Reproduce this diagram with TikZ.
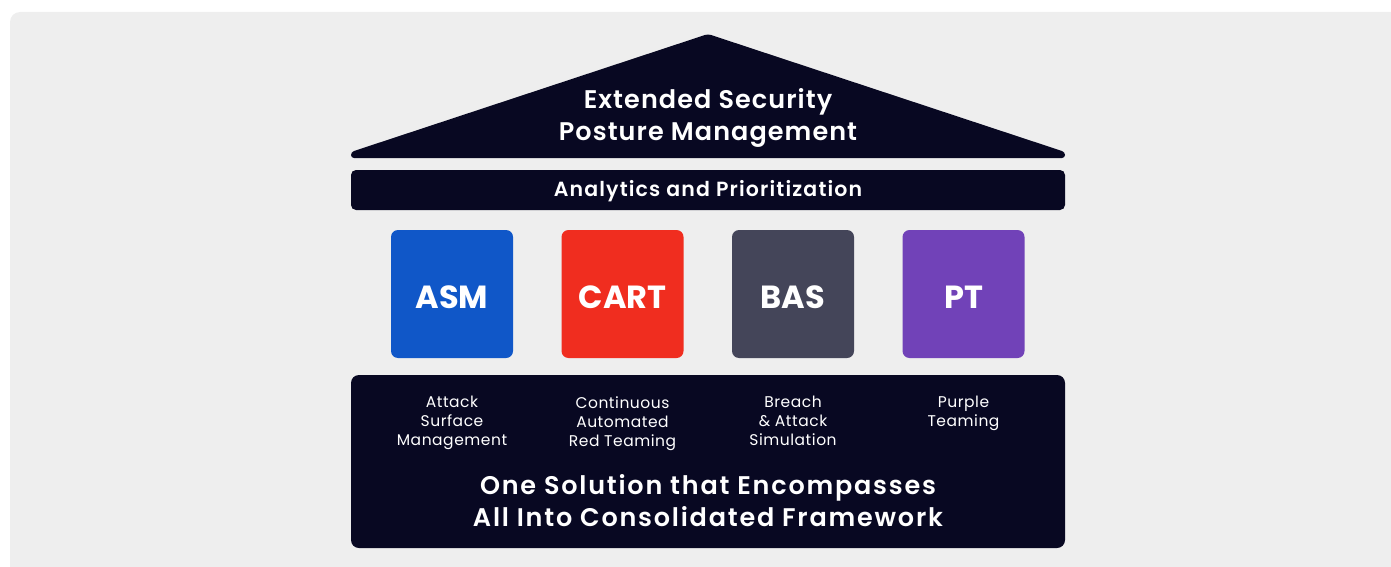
\documentclass[tikz,border=0pt]{standalone}
\usepackage{fontspec}
\setmainfont{Poppins}
\newfontfamily\semibold{Poppins SemiBold}
\newfontfamily\heavy{Poppins Bold}
\usetikzlibrary{positioning}

\definecolor{navy}{HTML}{080822}
\definecolor{asmblue}{HTML}{1057C8}
\definecolor{cartred}{HTML}{F02D1F}
\definecolor{basgray}{HTML}{444559}
\definecolor{ptpurple}{HTML}{7142B8}
\definecolor{backgray}{HTML}{EEEEEE}

\begin{document}
\begin{tikzpicture}[x=1pt, y=-1pt, node distance=170.5pt,
    bar/.style={fill=navy, rounded corners=5pt, minimum width=714pt, inner sep=0pt},
    pillar/.style={rounded corners=7pt, minimum width=122pt, minimum height=128pt,
      inner sep=0pt, text height=28pt, text depth=0pt, text=white,
      font=\heavy\fontsize{32}{36}\selectfont},
    desc/.style={text=white, align=center, anchor=north, inner sep=0pt,
      execute at begin node=\strut,
      font=\addfontfeature{LetterSpace=3.5}\fontsize{15.5}{19}\selectfont}]
  \useasboundingbox (0,0) rectangle (1391,567);
  \clip (0,0) rectangle (1391,567);
  \fill[backgray, rounded corners=10pt] (10,12) rectangle (1420,600);

  % roof
  \fill[navy, rounded corners=3pt] (351,158) -- (351,152) -- (708,34)
    -- (1065,152) -- (1065,158) -- cycle;
  \node[text=white, align=center,
    font=\semibold\addfontfeature{LetterSpace=4.2}\fontsize{25.5}{32}\selectfont]
    (xspm) at (708,118) {Extended Security\\Posture Management};

  \node[bar, minimum height=40pt, text=white, text depth=3pt,
    font=\semibold\addfontfeature{LetterSpace=5.6}\fontsize{20.5}{24}\selectfont]
    (analytics) at (708,190) {Analytics and Prioritization};

  % the four pillars
  \node[pillar, fill=asmblue]             (asm)  at (452,294) {ASM};
  \node[pillar, fill=cartred]  [right of=asm]  (cart) {CART};
  \node[pillar, fill=basgray]  [right of=cart] (bas)  {BAS};
  \node[pillar, fill=ptpurple] [right of=bas]  (pt)   {PT};

  % foundation
  \node[bar, minimum height=173pt, rounded corners=8pt] (frame) at (708,461.5) {};
  \node[desc] (asmtxt)  at (asm |- 0,396)  {Attack\\Surface\\Management};
  \node[desc] (carttxt) at (cart |- 0,396) {Continuous\\Automated\\Red Teaming};
  \node[desc] (bastxt)  at (bas |- 0,396)  {Breach\\\& Attack\\Simulation};
  \node[desc] (pttxt)   at (pt |- 0,396)   {Purple\\Teaming};
  \node[text=white, align=center,
    font=\semibold\addfontfeature{LetterSpace=7}\fontsize{25.5}{32}\selectfont]
    (motto) at (708,501) {One Solution that Encompasses\\All Into Consolidated Framework};
\end{tikzpicture}
\end{document}
